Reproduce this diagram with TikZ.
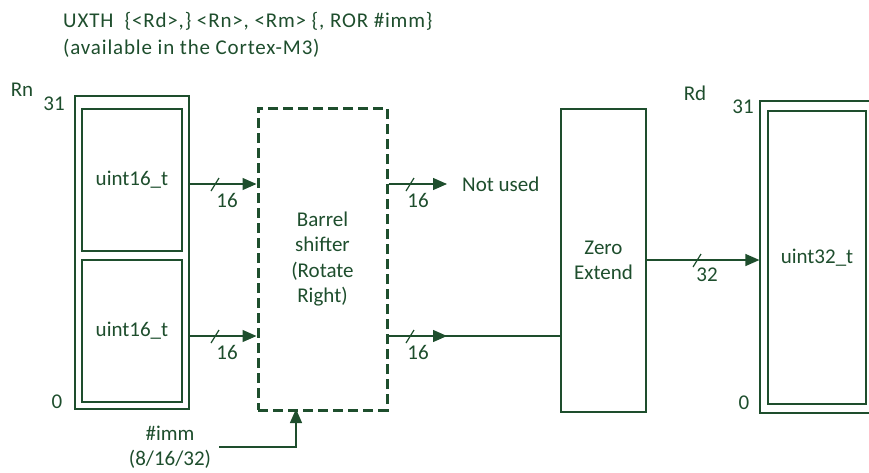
\documentclass[tikz,border=0pt]{standalone}
\usepackage{fontspec}
\setmainfont{Carlito}
\usetikzlibrary{arrows.meta}
\definecolor{dg}{RGB}{30,78,45}
\begin{document}
\begin{tikzpicture}[x=1pt,y=-1pt,
  every node/.style={text=dg,font=\fontsize{21}{25.5}\selectfont,inner sep=0pt},
  ttl/.style={anchor=west,font=\fontsize{21}{25.5}\selectfont\addfontfeature{LetterSpace=4}},
  box/.style={draw=dg,line width=1.2pt,rectangle},
  wire/.style={draw=dg,line width=1.3pt},
  arr/.style={wire,-{Triangle[length=14pt,width=12pt]}},
  slash/.style={draw=dg,line width=1.2pt}]
\useasboundingbox (0,0) rectangle (869,472);
% title
\node[ttl] (t1) at (63,21) {UXTH\ \ \{<Rd>,\} <Rn>, <Rm> \{, ROR \#imm\}};
\node[ttl] (t2) at (63,48) {(available in the Cortex-M3)};
% Rn register
\node[box,minimum width=114pt,minimum height=313pt] (Rn) at (132,252.5) {};
\node[box,minimum width=100pt,minimum height=142pt] (Rnh) at (132,180) {uint16\_t};
\node[box,minimum width=100pt,minimum height=142pt] (Rnl) at (132,331) {uint16\_t};
\node (rnl) at (22,90) {Rn};
\node (rn31) at (54,104) {31};
\node (rn0) at (57,402) {0};
% barrel shifter
\node[draw=dg,line width=3pt,dash pattern=on 10pt off 5pt,minimum width=129pt,minimum height=302pt,align=center] (B) at (322.5,259)
  {Barrel\\shifter\\(Rotate\\Right)};
% zero extend
\node[box,minimum width=85pt,minimum height=303pt,align=center] (Z) at (603.5,260.5) {Zero\\Extend};
% Rd register
\node[box,minimum width=116pt,minimum height=312pt] (Rd) at (818,257) {};
\node[box,minimum width=98pt,minimum height=293pt] (Rdi) at (817,257.5) {uint32\_t};
\node (rdl) at (695,93) {Rd};
\node (rd31) at (743,107) {31};
\node (rd0) at (744,403) {0};
% coordinates
\coordinate (a1s) at (Rn.east |- 0,184);
\coordinate (a1e) at (B.west |- 0,184);
\coordinate (a2s) at (Rn.east |- 0,336);
\coordinate (a2e) at (B.west |- 0,336);
\coordinate (a3s) at (B.east |- 0,184);
\coordinate (a3e) at (447,184);
\coordinate (a4s) at (B.east |- 0,336);
\coordinate (a4e) at (447,336);
\coordinate (a4z) at (Z.west |- 0,336);
\coordinate (a5s) at (Z.east |- 0,260);
\coordinate (a5e) at (Rd.west |- 0,260);
% arrows
\draw[arr] (a1s) -- (a1e);
\draw[arr] (a2s) -- (a2e);
\draw[arr] (a3s) -- (a3e);
\draw[wire] (a4s) -- (a4z);
\draw[arr] (a4s) -- (a4e);
\draw[arr] (a5s) -- (a5e);
% slashes and widths
\draw[slash] (211,191) -- (219,178);
\draw[slash] (211,343) -- (219,330);
\draw[slash] (406,191) -- (414,178);
\draw[slash] (406,343) -- (414,330);
\draw[slash] (693,267) -- (701,254);
\node (w1) at (227,200) {16};
\node (w2) at (227,352) {16};
\node (w3) at (418,200) {16};
\node (w4) at (418,352) {16};
\node (w5) at (707,275) {32};
\node[anchor=west] (nu) at (462,184) {Not used};
% imm
\node[align=center] (imm) at (170,447) {\#imm\\(8/16/32)};
\coordinate (ims) at (219,447);
\coordinate (imc) at (296,447);
\coordinate (ime) at (296,409);
\draw[arr] (ims) -- (imc) -- (ime);
\end{tikzpicture}
\end{document}
